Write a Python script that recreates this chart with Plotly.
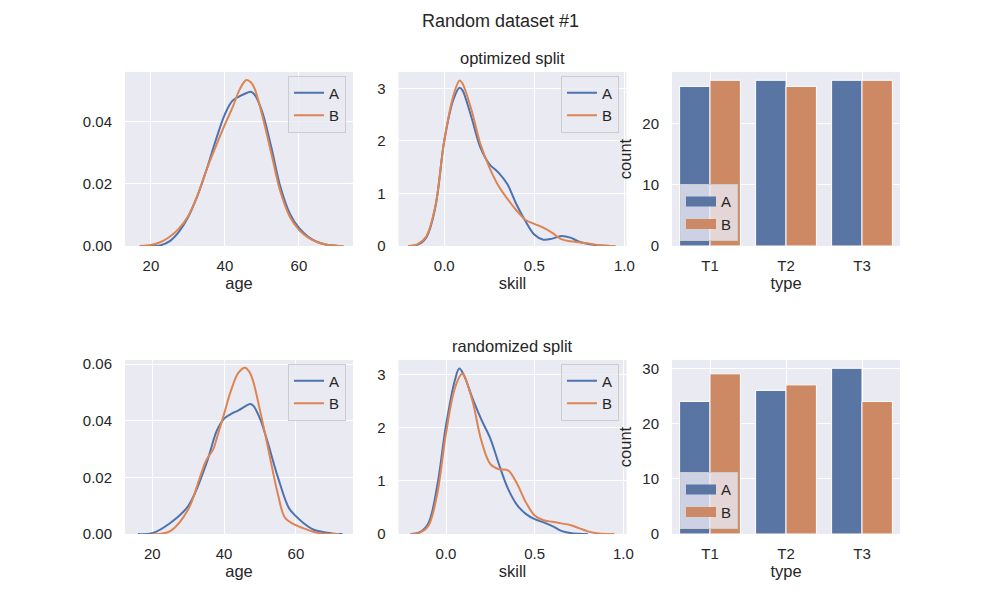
import plotly.graph_objects as go

# ---------------- data ----------------
# optimized split: age KDE
age_opt_x_A = [17, 20, 22.5, 25, 27.5, 30, 32.5, 35, 37.5, 40, 42, 44, 46, 47, 48, 50, 52.5, 55, 57.5, 60, 62.5, 65, 67.5, 70, 72]
age_opt_A = [0.0, 0.0, 0.0002, 0.0015, 0.0045, 0.0092, 0.016, 0.0245, 0.034, 0.0425, 0.0468, 0.0483, 0.0494, 0.0497, 0.0488,
             0.0435, 0.032, 0.019, 0.0105, 0.0058, 0.003, 0.0013, 0.0004, 0.0001, 0.0]
age_opt_x_B = [17, 20, 22.5, 25, 27.5, 30, 32.5, 35, 37.5, 40, 42, 44, 45.8, 47, 48, 50, 52.5, 55, 57.5, 60, 62.5, 65, 67.5, 70, 72]
age_opt_B = [0.0, 0.0003, 0.0012, 0.0029, 0.0055, 0.0095, 0.016, 0.0245, 0.032, 0.0392, 0.0445, 0.0505, 0.0535, 0.0528, 0.0508,
             0.0425, 0.030, 0.0175, 0.0095, 0.0052, 0.0027, 0.0012, 0.0004, 0.0001, 0.0]

# randomized split: age KDE
age_rnd_x_A = [16, 20, 25, 30, 35, 38, 40, 42, 44, 46, 47, 48, 50, 52, 55, 58, 60, 62, 65, 70, 73]
age_rnd_A = [0.0, 0.0003, 0.0039, 0.0099, 0.0247, 0.0366, 0.0408, 0.0425, 0.0437, 0.0452, 0.0459, 0.0455, 0.0408, 0.033,
             0.020, 0.0093, 0.0063, 0.0040, 0.0015, 0.0002, 0.0]
age_rnd_x_B = [20, 22, 25, 30, 33, 35, 37, 38, 40, 42, 44, 45.8, 47, 48, 50, 52, 55, 57, 60, 62, 65, 68, 72]
age_rnd_B = [0.0, 0.0, 0.001, 0.0087, 0.019, 0.026, 0.030, 0.034, 0.0425, 0.051, 0.057, 0.0588, 0.0574, 0.0544, 0.0437,
             0.0319, 0.014, 0.0057, 0.0031, 0.0021, 0.0007, 0.0001, 0.0]

# optimized split: skill KDE
skill_opt_x_A = [-0.2, -0.15, -0.1, -0.05, 0.0, 0.05, 0.085, 0.1, 0.15, 0.2, 0.25, 0.3, 0.35, 0.4, 0.45, 0.5, 0.55, 0.6,
                 0.65, 0.7, 0.75, 0.8, 0.85, 0.9, 0.95]
skill_opt_A = [0.0, 0.02, 0.16, 0.73, 2.0, 2.78, 3.01, 2.97, 2.46, 1.88, 1.56, 1.40, 1.18, 0.80, 0.48, 0.22, 0.12, 0.14,
               0.19, 0.16, 0.08, 0.04, 0.015, 0.005, 0.0]
skill_opt_x_B = [-0.2, -0.15, -0.1, -0.05, 0.0, 0.05, 0.085, 0.1, 0.15, 0.2, 0.25, 0.3, 0.35, 0.4, 0.45, 0.5, 0.55, 0.6,
                 0.65, 0.7, 0.75, 0.8, 0.85, 0.9, 0.95]
skill_opt_B = [0.0, 0.03, 0.18, 0.75, 2.0, 2.85, 3.15, 3.1, 2.6, 1.95, 1.5, 1.15, 0.9, 0.68, 0.5, 0.42, 0.35, 0.25,
               0.13, 0.09, 0.07, 0.05, 0.02, 0.005, 0.0]

# randomized split: skill KDE
skill_rnd_x_A = [-0.2, -0.15, -0.1, -0.05, 0.0, 0.05, 0.075, 0.1, 0.15, 0.2, 0.25, 0.3, 0.35, 0.4, 0.45, 0.5, 0.55, 0.6,
                 0.65, 0.7, 0.75, 0.8]
skill_rnd_A = [0.0, 0.03, 0.2, 0.9, 2.05, 2.9, 3.12, 3.0, 2.55, 2.15, 1.8, 1.3, 0.85, 0.55, 0.38, 0.28, 0.22, 0.15,
               0.06, 0.02, 0.005, 0.0]
skill_rnd_x_B = [-0.2, -0.15, -0.1, -0.05, 0.0, 0.05, 0.09, 0.1, 0.15, 0.2, 0.25, 0.3, 0.35, 0.4, 0.45, 0.5, 0.55, 0.6,
                 0.65, 0.7, 0.75, 0.8, 0.85, 0.9, 0.95]
skill_rnd_B = [0.0, 0.02, 0.15, 0.75, 1.9, 2.75, 3.02, 3.0, 2.5, 1.75, 1.32, 1.22, 1.2, 0.95, 0.6, 0.35, 0.26, 0.23,
               0.2, 0.17, 0.11, 0.05, 0.015, 0.0, 0.0]

# counts per type
types = ["T1", "T2", "T3"]
count_opt_A = [26, 27, 27]
count_opt_B = [27, 26, 27]
count_rnd_A = [24, 26, 30]
count_rnd_B = [29, 27, 24]

# ---------------- style ----------------
BLUE = "#4C72B0"
ORANGE = "#DD8452"
BAR_BLUE = "#5875A4"
BAR_ORANGE = "#CC8963"
FONT = "Arial, Liberation Sans, sans-serif"
TICK = dict(family=FONT, size=15, color="#262626")
LAB = dict(family=FONT, size=16.5, color="#262626")

fig = go.Figure()

def kde(x, y, name, color, ax, leg):
    fig.add_trace(go.Scatter(x=x, y=y, mode="lines", name=name, line=dict(color=color, width=2, shape="spline", smoothing=1.0),
                             xaxis="x" + ax, yaxis="y" + ax, legend=leg, showlegend=True))

kde(age_opt_x_A, age_opt_A, "A", BLUE, "", "legend")
kde(age_opt_x_B, age_opt_B, "B", ORANGE, "", "legend")
kde(skill_opt_x_A, skill_opt_A, "A", BLUE, "2", "legend2")
kde(skill_opt_x_B, skill_opt_B, "B", ORANGE, "2", "legend2")
kde(age_rnd_x_A, age_rnd_A, "A", BLUE, "4", "legend4")
kde(age_rnd_x_B, age_rnd_B, "B", ORANGE, "4", "legend4")
kde(skill_rnd_x_A, skill_rnd_A, "A", BLUE, "5", "legend5")
kde(skill_rnd_x_B, skill_rnd_B, "B", ORANGE, "5", "legend5")

def bars(y, name, color, ax, leg):
    fig.add_trace(go.Bar(x=types, y=y, name=name, marker=dict(color=color, line=dict(color="white", width=1)),
                         xaxis="x" + ax, yaxis="y" + ax, showlegend=False))
    # legend-only entry drawn as a wide patch
    fig.add_trace(go.Scatter(x=[None], y=[None], mode="lines", name=name, line=dict(color=color, width=10),
                             xaxis="x" + ax, yaxis="y" + ax, legend=leg, showlegend=True))

bars(count_opt_A, "A", BAR_BLUE, "3", "legend3")
bars(count_opt_B, "B", BAR_ORANGE, "3", "legend3")
bars(count_rnd_A, "A", BAR_BLUE, "6", "legend6")
bars(count_rnd_B, "B", BAR_ORANGE, "6", "legend6")

xdom = [[0.125, 0.353], [0.3985, 0.6265], [0.672, 0.9]]
ydom = [[0.59, 0.88], [0.11, 0.40]]

def xax(dom, anchor, rng, tickvals=None, fmt=None, title=None, cat=False):
    d = dict(domain=dom, anchor=anchor, showgrid=True, gridcolor="white", gridwidth=1, zeroline=False,
             showline=False, ticks="", tickfont=TICK, ticklabelstandoff=9, automargin=False,
             title=dict(text=title, font=LAB, standoff=4))
    if rng is not None:
        d["range"] = rng
    if tickvals is not None:
        d["tickvals"] = tickvals
    if fmt:
        d["tickformat"] = fmt
    if cat:
        d["type"] = "category"
    return d

def yax(dom, anchor, rng, tickvals, fmt=None, title=None):
    d = dict(domain=dom, anchor=anchor, range=rng, tickvals=tickvals, showgrid=True, gridcolor="white", gridwidth=1,
             zeroline=False, showline=False, ticks="", tickfont=TICK, ticklabelstandoff=12, automargin=False,
             title=dict(text=title, font=LAB, standoff=6))
    if fmt:
        d["tickformat"] = fmt
    return d

leg_common = dict(bgcolor="rgba(234,234,242,0.8)", bordercolor="#CCCCCC", borderwidth=1,
                  font=dict(family=FONT, size=15, color="#262626"), tracegroupgap=0, itemwidth=30)

fig.update_layout(
    width=1000, height=600,
    margin=dict(l=0, r=0, t=0, b=0, pad=0, autoexpand=False),
    paper_bgcolor="white", plot_bgcolor="#EAEAF2",
    barmode="group", bargap=0.2, bargroupgap=0,
    font=dict(family=FONT, color="#262626"),
    xaxis=xax(xdom[0], "y", [13.0, 74.6], [20, 40, 60], None, "age"),
    yaxis=yax(ydom[0], "x", [0, 0.0561], [0, 0.02, 0.04], ".2f"),
    xaxis2=xax(xdom[1], "y2", [-0.254, 1.012], [0.0, 0.5, 1.0], ".1f", "skill"),
    yaxis2=yax(ydom[0], "x2", [0, 3.31], [0, 1, 2, 3]),
    xaxis3=xax(xdom[2], "y3", [-0.5, 2.5], None, None, "type", cat=True),
    yaxis3=yax(ydom[0], "x3", [0, 28.35], [0, 10, 20], None, "count"),
    xaxis4=xax(xdom[0], "y4", [12.4, 75.9], [20, 40, 60], None, "age"),
    yaxis4=yax(ydom[1], "x4", [0, 0.0615], [0, 0.02, 0.04, 0.06], ".2f"),
    xaxis5=xax(xdom[1], "y5", [-0.268, 1.018], [0.0, 0.5, 1.0], ".1f", "skill"),
    yaxis5=yax(ydom[1], "x5", [0, 3.28], [0, 1, 2, 3]),
    xaxis6=xax(xdom[2], "y6", [-0.5, 2.5], None, None, "type", cat=True),
    yaxis6=yax(ydom[1], "x6", [0, 31.5], [0, 10, 20, 30], None, "count"),
    legend=dict(x=0.346, y=0.874, xanchor="right", yanchor="top", **leg_common),
    legend2=dict(x=0.619, y=0.874, xanchor="right", yanchor="top", **leg_common),
    legend3=dict(x=0.68, y=0.598, xanchor="left", yanchor="bottom", **leg_common),
    legend4=dict(x=0.346, y=0.394, xanchor="right", yanchor="top", **leg_common),
    legend5=dict(x=0.619, y=0.394, xanchor="right", yanchor="top", **leg_common),
    legend6=dict(x=0.68, y=0.118, xanchor="left", yanchor="bottom", **leg_common),
    annotations=[
        dict(text="Random dataset #1", x=0.5, y=1 - 21 / 600, xref="paper", yref="paper", showarrow=False,
             font=dict(family=FONT, size=18, color="#262626"), xanchor="center", yanchor="middle"),
        dict(text="optimized split", x=0.5125, y=1 - 58 / 600, xref="paper", yref="paper", showarrow=False,
             font=dict(family=FONT, size=16.5, color="#262626"), xanchor="center", yanchor="middle"),
        dict(text="randomized split", x=0.5125, y=1 - 346 / 600, xref="paper", yref="paper", showarrow=False,
             font=dict(family=FONT, size=16.5, color="#262626"), xanchor="center", yanchor="middle"),
    ],
)

fig.write_html("out.html")
